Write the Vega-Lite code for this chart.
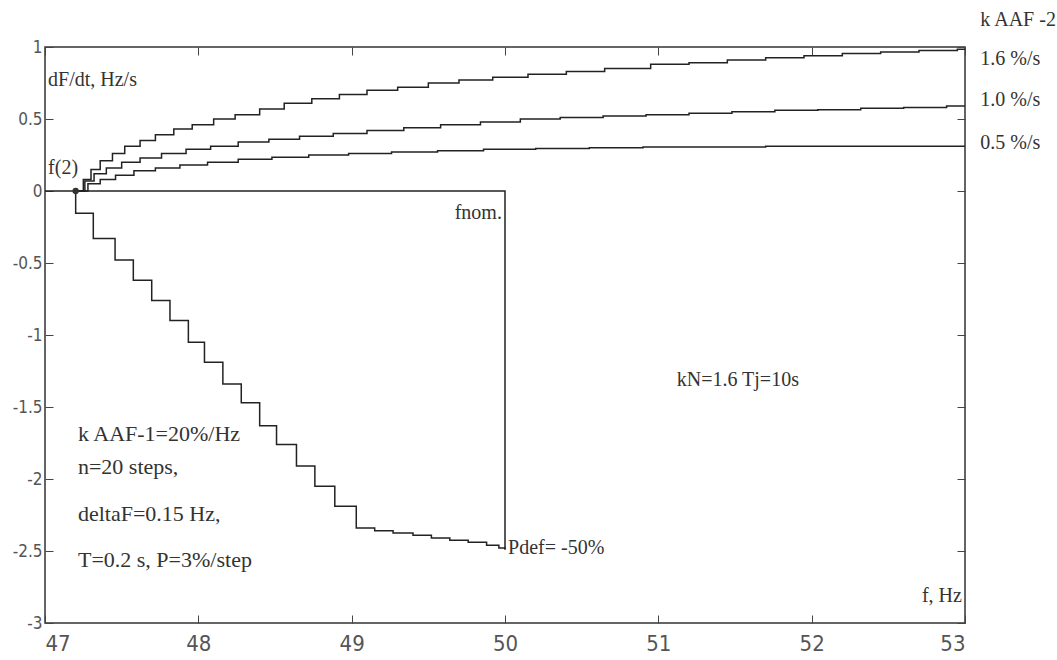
{
  "$schema": "https://vega.github.io/schema/vega-lite/v6.json",
  "width": 920,
  "height": 576,
  "autosize": {"type": "none"},
  "padding": {"left": 45, "top": 47, "right": 92, "bottom": 37},
  "background": "white",
  "config": {
    "view": {"stroke": "#333", "strokeWidth": 1.5},
    "axis": {"grid": false, "domain": false, "tickColor": "#444", "tickWidth": 1, "labelColor": "#555", "labelFont": "Liberation Sans Narrow, DejaVu Sans Condensed, Liberation Sans", "title": null}
  },
  "datasets": {
    "curves": [
      {"s": "down", "i": 0, "f": 47.2, "v": 0},
      {"s": "down", "i": 1, "f": 47.2, "v": -0.155},
      {"s": "down", "i": 2, "f": 47.315, "v": -0.33},
      {"s": "down", "i": 3, "f": 47.457, "v": -0.48},
      {"s": "down", "i": 4, "f": 47.576, "v": -0.62},
      {"s": "down", "i": 5, "f": 47.696, "v": -0.76},
      {"s": "down", "i": 6, "f": 47.815, "v": -0.9},
      {"s": "down", "i": 7, "f": 47.935, "v": -1.05},
      {"s": "down", "i": 8, "f": 48.04, "v": -1.19},
      {"s": "down", "i": 9, "f": 48.16, "v": -1.34},
      {"s": "down", "i": 10, "f": 48.28, "v": -1.47},
      {"s": "down", "i": 11, "f": 48.4, "v": -1.63},
      {"s": "down", "i": 12, "f": 48.51, "v": -1.76},
      {"s": "down", "i": 13, "f": 48.64, "v": -1.91},
      {"s": "down", "i": 14, "f": 48.76, "v": -2.05},
      {"s": "down", "i": 15, "f": 48.89, "v": -2.19},
      {"s": "down", "i": 16, "f": 49.03, "v": -2.34},
      {"s": "down", "i": 17, "f": 49.15, "v": -2.36},
      {"s": "down", "i": 18, "f": 49.27, "v": -2.375},
      {"s": "down", "i": 19, "f": 49.4, "v": -2.39},
      {"s": "down", "i": 20, "f": 49.52, "v": -2.41},
      {"s": "down", "i": 21, "f": 49.64, "v": -2.425},
      {"s": "down", "i": 22, "f": 49.76, "v": -2.44},
      {"s": "down", "i": 23, "f": 49.88, "v": -2.46},
      {"s": "down", "i": 24, "f": 49.96, "v": -2.48},
      {"s": "down", "i": 25, "f": 50, "v": -2.49},
      {"s": "k16", "i": 0, "f": 47.2, "v": 0},
      {"s": "k16", "i": 1, "f": 47.25, "v": 0.08},
      {"s": "k16", "i": 2, "f": 47.3, "v": 0.15},
      {"s": "k16", "i": 3, "f": 47.36, "v": 0.21},
      {"s": "k16", "i": 4, "f": 47.44, "v": 0.26},
      {"s": "k16", "i": 5, "f": 47.52, "v": 0.31},
      {"s": "k16", "i": 6, "f": 47.62, "v": 0.35},
      {"s": "k16", "i": 7, "f": 47.72, "v": 0.39},
      {"s": "k16", "i": 8, "f": 47.84, "v": 0.43},
      {"s": "k16", "i": 9, "f": 47.96, "v": 0.46},
      {"s": "k16", "i": 10, "f": 48.1, "v": 0.5},
      {"s": "k16", "i": 11, "f": 48.24, "v": 0.53},
      {"s": "k16", "i": 12, "f": 48.4, "v": 0.57},
      {"s": "k16", "i": 13, "f": 48.56, "v": 0.61},
      {"s": "k16", "i": 14, "f": 48.74, "v": 0.64},
      {"s": "k16", "i": 15, "f": 48.92, "v": 0.67},
      {"s": "k16", "i": 16, "f": 49.1, "v": 0.7},
      {"s": "k16", "i": 17, "f": 49.3, "v": 0.72},
      {"s": "k16", "i": 18, "f": 49.5, "v": 0.75},
      {"s": "k16", "i": 19, "f": 49.7, "v": 0.77},
      {"s": "k16", "i": 20, "f": 49.92, "v": 0.79},
      {"s": "k16", "i": 21, "f": 50.15, "v": 0.81},
      {"s": "k16", "i": 22, "f": 50.4, "v": 0.83},
      {"s": "k16", "i": 23, "f": 50.65, "v": 0.85},
      {"s": "k16", "i": 24, "f": 50.95, "v": 0.88},
      {"s": "k16", "i": 25, "f": 51.2, "v": 0.89},
      {"s": "k16", "i": 26, "f": 51.45, "v": 0.91},
      {"s": "k16", "i": 27, "f": 51.7, "v": 0.925},
      {"s": "k16", "i": 28, "f": 51.95, "v": 0.94},
      {"s": "k16", "i": 29, "f": 52.2, "v": 0.955},
      {"s": "k16", "i": 30, "f": 52.45, "v": 0.965},
      {"s": "k16", "i": 31, "f": 52.7, "v": 0.975},
      {"s": "k16", "i": 32, "f": 52.95, "v": 0.985},
      {"s": "k16", "i": 33, "f": 53, "v": 0.985},
      {"s": "k10", "i": 0, "f": 47.2, "v": 0},
      {"s": "k10", "i": 1, "f": 47.26, "v": 0.07},
      {"s": "k10", "i": 2, "f": 47.32, "v": 0.12},
      {"s": "k10", "i": 3, "f": 47.4, "v": 0.16},
      {"s": "k10", "i": 4, "f": 47.5, "v": 0.2},
      {"s": "k10", "i": 5, "f": 47.62, "v": 0.23},
      {"s": "k10", "i": 6, "f": 47.76, "v": 0.26},
      {"s": "k10", "i": 7, "f": 47.92, "v": 0.29},
      {"s": "k10", "i": 8, "f": 48.08, "v": 0.31},
      {"s": "k10", "i": 9, "f": 48.26, "v": 0.34},
      {"s": "k10", "i": 10, "f": 48.46, "v": 0.36},
      {"s": "k10", "i": 11, "f": 48.66, "v": 0.38},
      {"s": "k10", "i": 12, "f": 48.88, "v": 0.4},
      {"s": "k10", "i": 13, "f": 49.1, "v": 0.42},
      {"s": "k10", "i": 14, "f": 49.34, "v": 0.44},
      {"s": "k10", "i": 15, "f": 49.58, "v": 0.46},
      {"s": "k10", "i": 16, "f": 49.84, "v": 0.48},
      {"s": "k10", "i": 17, "f": 50.1, "v": 0.5},
      {"s": "k10", "i": 18, "f": 50.36, "v": 0.51},
      {"s": "k10", "i": 19, "f": 50.64, "v": 0.52},
      {"s": "k10", "i": 20, "f": 50.92, "v": 0.53},
      {"s": "k10", "i": 21, "f": 51.2, "v": 0.54},
      {"s": "k10", "i": 22, "f": 51.48, "v": 0.55},
      {"s": "k10", "i": 23, "f": 51.76, "v": 0.56},
      {"s": "k10", "i": 24, "f": 52.04, "v": 0.565},
      {"s": "k10", "i": 25, "f": 52.32, "v": 0.575},
      {"s": "k10", "i": 26, "f": 52.6, "v": 0.58},
      {"s": "k10", "i": 27, "f": 52.88, "v": 0.59},
      {"s": "k10", "i": 28, "f": 53, "v": 0.59},
      {"s": "k05", "i": 0, "f": 47.2, "v": 0},
      {"s": "k05", "i": 1, "f": 47.28, "v": 0.05},
      {"s": "k05", "i": 2, "f": 47.36, "v": 0.08},
      {"s": "k05", "i": 3, "f": 47.46, "v": 0.11},
      {"s": "k05", "i": 4, "f": 47.58, "v": 0.14},
      {"s": "k05", "i": 5, "f": 47.72, "v": 0.16},
      {"s": "k05", "i": 6, "f": 47.88, "v": 0.18},
      {"s": "k05", "i": 7, "f": 48.06, "v": 0.2},
      {"s": "k05", "i": 8, "f": 48.26, "v": 0.22},
      {"s": "k05", "i": 9, "f": 48.48, "v": 0.235},
      {"s": "k05", "i": 10, "f": 48.72, "v": 0.25},
      {"s": "k05", "i": 11, "f": 48.98, "v": 0.26},
      {"s": "k05", "i": 12, "f": 49.26, "v": 0.27},
      {"s": "k05", "i": 13, "f": 49.56, "v": 0.28},
      {"s": "k05", "i": 14, "f": 49.86, "v": 0.29},
      {"s": "k05", "i": 15, "f": 50.2, "v": 0.295},
      {"s": "k05", "i": 16, "f": 50.55, "v": 0.3},
      {"s": "k05", "i": 17, "f": 50.9, "v": 0.305},
      {"s": "k05", "i": 18, "f": 51.3, "v": 0.305},
      {"s": "k05", "i": 19, "f": 51.7, "v": 0.31},
      {"s": "k05", "i": 20, "f": 52.1, "v": 0.31},
      {"s": "k05", "i": 21, "f": 52.5, "v": 0.31},
      {"s": "k05", "i": 22, "f": 52.9, "v": 0.31},
      {"s": "k05", "i": 23, "f": 53, "v": 0.31}
    ],
    "frame": [
      {"i": 0, "f": 47, "v": 0},
      {"i": 1, "f": 50, "v": 0},
      {"i": 2, "f": 50, "v": -2.49}
    ],
    "start": [{"f": 47.2, "v": 0}],
    "textsLeft": [
      {"f": 47.02, "v": 0.77, "t": "dF/dt, Hz/s"},
      {"f": 47.02, "v": 0.16, "t": "f(2)"},
      {"f": 50.02, "v": -2.48, "t": "Pdef= -50%"},
      {"f": 51.12, "v": -1.31, "t": "kN=1.6   Tj=10s"},
      {"f": 53.1, "v": 1.19, "t": "k AAF -2"},
      {"f": 53.1, "v": 0.92, "t": "1.6 %/s"},
      {"f": 53.1, "v": 0.63, "t": "1.0 %/s"},
      {"f": 53.1, "v": 0.33, "t": "0.5 %/s"}
    ],
    "textsBlock": [
      {"f": 47.215, "v": -1.69, "t": "k AAF-1=20%/Hz"},
      {"f": 47.215, "v": -1.92, "t": "n=20 steps,"},
      {"f": 47.215, "v": -2.24, "t": "deltaF=0.15 Hz,"},
      {"f": 47.215, "v": -2.56, "t": "T=0.2 s, P=3%/step"}
    ],
    "textsRight": [
      {"f": 49.98, "v": -0.15, "t": "fnom."},
      {"f": 52.98, "v": -2.81, "t": "f, Hz"}
    ]
  },
  "encoding": {
    "x": {"field": "f", "type": "quantitative", "scale": {"domain": [47, 53], "nice": false, "zero": false}},
    "y": {"field": "v", "type": "quantitative", "scale": {"domain": [-3, 1], "nice": false, "zero": false}}
  },
  "layer": [
    {
      "data": {"name": "curves"},
      "mark": {"type": "line", "interpolate": "step-after", "color": "#222", "strokeWidth": 1.5},
      "encoding": {
        "x": {"field": "f", "type": "quantitative", "axis": {"orient": "bottom", "values": [47, 48, 49, 50, 51, 52, 53], "tickSize": -8, "labelPadding": 18, "labelFontSize": 22, "labelBaseline": "top"}},
        "y": {"field": "v", "type": "quantitative", "axis": {"orient": "left", "values": [-3, -2.5, -2, -1.5, -1, -0.5, 0, 0.5, 1], "tickSize": -8, "labelPadding": 11, "labelFontSize": 17, "labelExpr": "'' + datum.value"}},
        "detail": {"field": "s"},
        "order": {"field": "i"}
      }
    },
    {
      "data": {"name": "frame"},
      "mark": {"type": "line", "color": "#222", "strokeWidth": 1.5},
      "encoding": {
        "x": {"field": "f", "type": "quantitative", "axis": {"orient": "top", "values": [47, 48, 49, 50, 51, 52, 53], "tickSize": -8, "labels": false}},
        "y": {"field": "v", "type": "quantitative", "axis": {"orient": "right", "values": [-3, -2.5, -2, -1.5, -1, -0.5, 0, 0.5, 1], "tickSize": -8, "labels": false}},
        "order": {"field": "i"}
      }
    },
    {
      "data": {"name": "start"},
      "mark": {"type": "point", "filled": true, "color": "#333", "size": 40, "opacity": 1},
      "encoding": {
        "x": {"field": "f", "type": "quantitative", "axis": null},
        "y": {"field": "v", "type": "quantitative", "axis": null}
      }
    },
    {
      "data": {"name": "textsLeft"},
      "mark": {"type": "text", "align": "left", "baseline": "middle", "font": "Liberation Serif", "fontSize": 20, "color": "#333"},
      "encoding": {
        "x": {"field": "f", "type": "quantitative", "axis": null},
        "y": {"field": "v", "type": "quantitative", "axis": null},
        "text": {"field": "t"}
      }
    },
    {
      "data": {"name": "textsBlock"},
      "mark": {"type": "text", "align": "left", "baseline": "middle", "font": "Liberation Serif", "fontSize": 22, "color": "#333"},
      "encoding": {
        "x": {"field": "f", "type": "quantitative", "axis": null},
        "y": {"field": "v", "type": "quantitative", "axis": null},
        "text": {"field": "t"}
      }
    },
    {
      "data": {"name": "textsRight"},
      "mark": {"type": "text", "align": "right", "baseline": "middle", "font": "Liberation Serif", "fontSize": 20, "color": "#333"},
      "encoding": {
        "x": {"field": "f", "type": "quantitative", "axis": null},
        "y": {"field": "v", "type": "quantitative", "axis": null},
        "text": {"field": "t"}
      }
    }
  ],
  "resolve": {"axis": {"x": "independent", "y": "independent"}}
}
